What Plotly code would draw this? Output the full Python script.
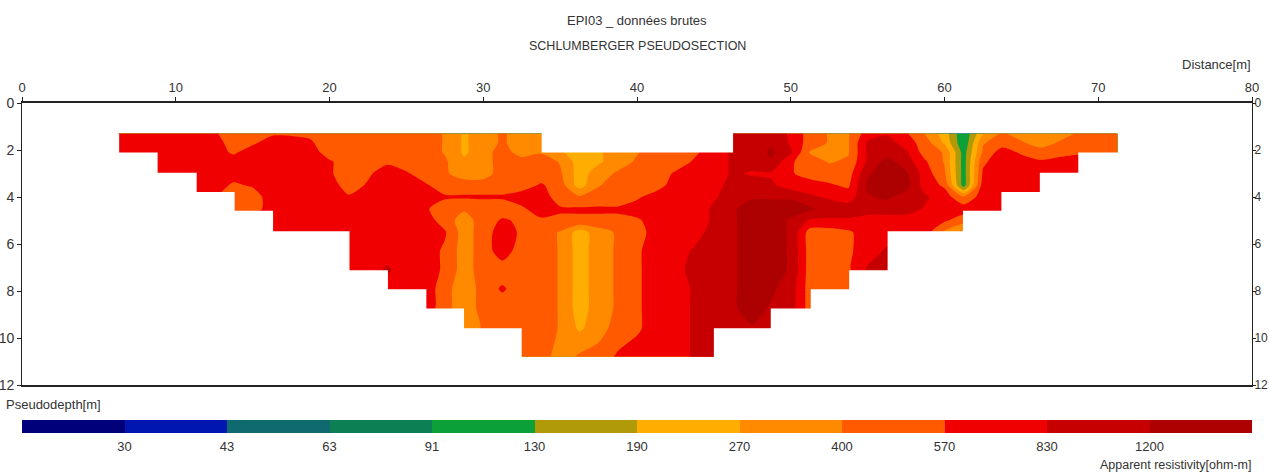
import numpy as np
import plotly.graph_objects as go

# Apparent resistivity classes read from the section (ohm-m), as letters per cell
RES = dict(G=95, H=110, Y=205, A=230, B=260, C=290, O=330, P=385, Q=420, S=480, T=540,
           U=600, R=690, V=790, W=880, D=1000, F=1150, J=1280, E=1400)

distance = [6.25 + 1.25 * i for i in range(53)]
depth = [1.3, 1.7, 2.1, 2.5, 3.0, 3.5, 4.0, 4.5, 5.0, 5.5, 6.3, 7.1, 7.9, 8.7, 9.6, 10.8]

row_1_3 = "RRRRR USSTT TSSSS SSPBO QOOCA BOPSS TRWDD VSPPR VUPAG BQOOO QSS"
row_1_7 = "RRRRR RSTRR USSSS SSPBO QOOCA BOPSS TRWDF VSPPW DRSBG PSQOQ SSS"
row_2_1 = "RRRRR RTRRR RSSSS SSPBO SOPCA BOPSS TRWDJ WPOPW DWSPH QRTSS TSS"
row_2_5 = "RRRRR RRRRR RUSST SSQCO SSSPA BOQSS URWDF USPQW EDUPH TRRUR RRR"
row_3_0 = "RRRRR RRRRR RUSTR USQOO SSSQA OQSSU RRWVV USSSF EJRQH URRRR RRR"
row_3_5 = "RRRRR RTURR RRSUR RUSSS SSUSA PSSSR RRDDW RRUTJ EERTH RRRRR RRR"
row_4_0 = "RRRRR USSRR RRURR RRUUU URRSQ SSTRR RVDFF FWVRF JDWRQ RRRRR RRR"
row_4_5 = "RRRRR RSSRR RRRRR RUSQS STRUU UURRR RWFEE EJDDD DDVRR RRRRR RRR"
row_5_0 = "RRRRR RRRRR RRRRR RRSOS UTTTT TTTRR RWFEE FVVVR RRRUS RRRRR RRR"
row_5_5 = "RRRRR RRRRR RRRRR RRUOS RTSPA OQSRR RDFEE FSSTR RRRPB RRRRR RRR"
row_6_3 = "RRRRR RRRRR RRRRR RRTOS RSSPA OQTRR WDFEE FSSTR WDRRR RRRRR RRR"
row_7_1 = "RRRRR RRRRR RRRRW RRTOS SSSPA OQTRR DDFEE FSSTW DDRRR RRRRR RRR"
row_7_9 = "RRRRR RRRRR RRRRR RRSCS USSPA OQTRR WDFEJ DSSSS SRRRR RRRRR RRR"
row_8_7 = "RRRRR RRRRR RRRRR RRSCS SSSPA OQTRR WDFEF DSSSS SRRRR RRRRR RRR"
row_9_6 = "RRRRR RRRRR RRRRR SSSCQ SSSPB OSTRR WDDFD DSSSS SRRRR RRRRR RRR"
row_10_8 = "SSSSS SSSSS SSSSS SSSSS SSSOQ SURRR WDDDD DDDDD DDDDD DDDDD DDD"

rows = [row_1_3, row_1_7, row_2_1, row_2_5, row_3_0, row_3_5, row_4_0, row_4_5,
        row_5_0, row_5_5, row_6_3, row_7_1, row_7_9, row_8_7, row_9_6, row_10_8]

# Staircase outline of the measured section
band_depths = [1.3, 2.11, 2.97, 3.79, 4.58, 5.46, 7.12, 7.93, 8.74, 9.59, 10.8]
left_edges = [6.32, 8.82, 11.36, 13.83, 16.33, 21.3, 23.8, 26.3, 28.75, 32.5]
right_edges = [71.3, 68.7, 66.2, 63.7, 61.2, 56.3, 53.8, 51.3, 48.7, 45.0]
notch_x = [33.8, 46.25]
notch_depth = [1.2, 2.11]

levels = [30, 43, 63, 91, 130, 190, 270, 400, 570, 830, 1200]
level_labels = ["30", "43", "63", "91", "130", "190", "270", "400", "570", "830", "1200"]
band_colors = ["#00007a", "#0016b0", "#0f6a70", "#0c7f55", "#0ca038", "#b09a08",
               "#ffad00", "#ff8a00", "#ff5a00", "#f00000", "#c60000", "#ad0000"]

W, H = 1269, 475
PL, PR, PT, PB = 22, 1252, 103, 385
BT, BB = 420, 433
FONT = "Liberation Sans"
TXT = "#333333"

grid = []
for r in rows:
    cells = r.replace(" ", "")
    assert len(cells) == 53, r
    grid.append([np.log10(RES[c]) for c in cells])

lo, hi = np.log10(levels[0]), np.log10(levels[-1])
step = (hi - lo) / 10
n = len(band_colors)
cs = [[k / (n - 1), band_colors[k]] for k in range(n)]

fig = go.Figure()
fig.add_trace(go.Contour(
    x=distance, y=depth, z=grid, colorscale=cs, showscale=False, hoverinfo="skip",
    autocontour=False,
    contours=dict(coloring="fill", start=lo, end=hi + 1e-6, size=step, showlines=False),
    line=dict(width=0, smoothing=0.7),
))

# White masks that cut the section to its staircase outline
lx, ly = [5.5], [band_depths[0]]
for i, e in enumerate(left_edges):
    lx += [e, e]
    ly += [band_depths[i], band_depths[i + 1]]
lx += [left_edges[-1], 5.5]
ly += [band_depths[-1] + 0.2, band_depths[-1] + 0.2]
rx, ry = [72.5], [band_depths[0]]
for i, e in enumerate(right_edges):
    rx += [e, e]
    ry += [band_depths[i], band_depths[i + 1]]
rx += [right_edges[-1], 72.5]
ry += [band_depths[-1] + 0.2, band_depths[-1] + 0.2]
nx = [notch_x[0], notch_x[1], notch_x[1], notch_x[0]]
ny = [notch_depth[0], notch_depth[0], notch_depth[1], notch_depth[1]]
for px, py in [(lx, ly), (rx, ry), (nx, ny)]:
    fig.add_trace(go.Scatter(x=px, y=py, mode="lines", fill="toself", fillcolor="white",
                             line=dict(width=0, color="white"), hoverinfo="skip",
                             showlegend=False, xaxis="x", yaxis="y3"))

# Colour bar
fig.add_trace(go.Heatmap(
    x=[k + 0.5 for k in range(n)], y=[0], z=[list(range(n))], xaxis="x2", yaxis="y2",
    zmin=0, zmax=n - 1, colorscale=cs, showscale=False, hoverinfo="skip", xgap=0,
))

tickfont = dict(family=FONT, size=13, color=TXT)
yax = dict(range=[12, 0], tickmode="array", tickvals=[0, 2, 4, 6, 8, 10, 12],
           ticks="outside", tickwidth=1, tickcolor="#222", showgrid=False,
           zeroline=False, showline=True, linecolor="#222", linewidth=1)

fig.update_layout(
    width=W, height=H, autosize=False, paper_bgcolor="white", plot_bgcolor="white",
    margin=dict(l=PL, r=W - PR, t=0, b=0, autoexpand=False), showlegend=False,
    xaxis=dict(range=[0, 80], side="top", tickmode="array", tickvals=list(range(0, 81, 10)),
               ticks="outside", ticklen=4, tickwidth=1, tickcolor="#222", showgrid=False,
               zeroline=False, showline=True, mirror=True, linecolor="#222", linewidth=2,
               tickfont=tickfont, anchor="y", domain=[0, 1]),
    yaxis=dict(**yax, side="left", anchor="x", ticklen=4,
               tickfont=dict(family=FONT, size=14, color=TXT),
               domain=[1 - PB / H, 1 - PT / H]),
    yaxis3=dict(**yax, side="right", overlaying="y", anchor="x", ticklen=3,
                ticklabelstandoff=-4, tickfont=dict(family=FONT, size=12, color=TXT)),
    xaxis2=dict(range=[0, n], tickmode="array", tickvals=list(range(1, n)),
                ticktext=level_labels, ticks="outside", ticklen=1, tickcolor="rgba(0,0,0,0)",
                showgrid=False, zeroline=False, side="bottom", showline=False,
                tickfont=tickfont, anchor="y2", domain=[0, 1]),
    yaxis2=dict(range=[-0.5, 0.5], showticklabels=False, ticks="", showgrid=False,
                zeroline=False, domain=[1 - BB / H, 1 - BT / H], anchor="x2",
                showline=False),
)


def lab(text, px, py, anchor="center", size=13):
    fig.add_annotation(text=text, x=(px - PL) / (PR - PL), y=1 - py / H, xref="paper",
                       yref="paper", xanchor=anchor, yanchor="middle", showarrow=False,
                       borderpad=0, font=dict(family=FONT, size=size, color=TXT))


lab("EPI03 _ données brutes", 637, 20)
lab("SCHLUMBERGER PSEUDOSECTION", 637, 46, size=12.5)
lab("Distance[m]", 1252, 64, "right")
lab("Pseudodepth[m]", 5, 404, "left")
lab("Apparent resistivity[ohm-m]", 1252, 465, "right", size=12.5)

fig.write_html("out.html", config={"displayModeBar": False},
               post_script="document.body.style.margin='0';")
